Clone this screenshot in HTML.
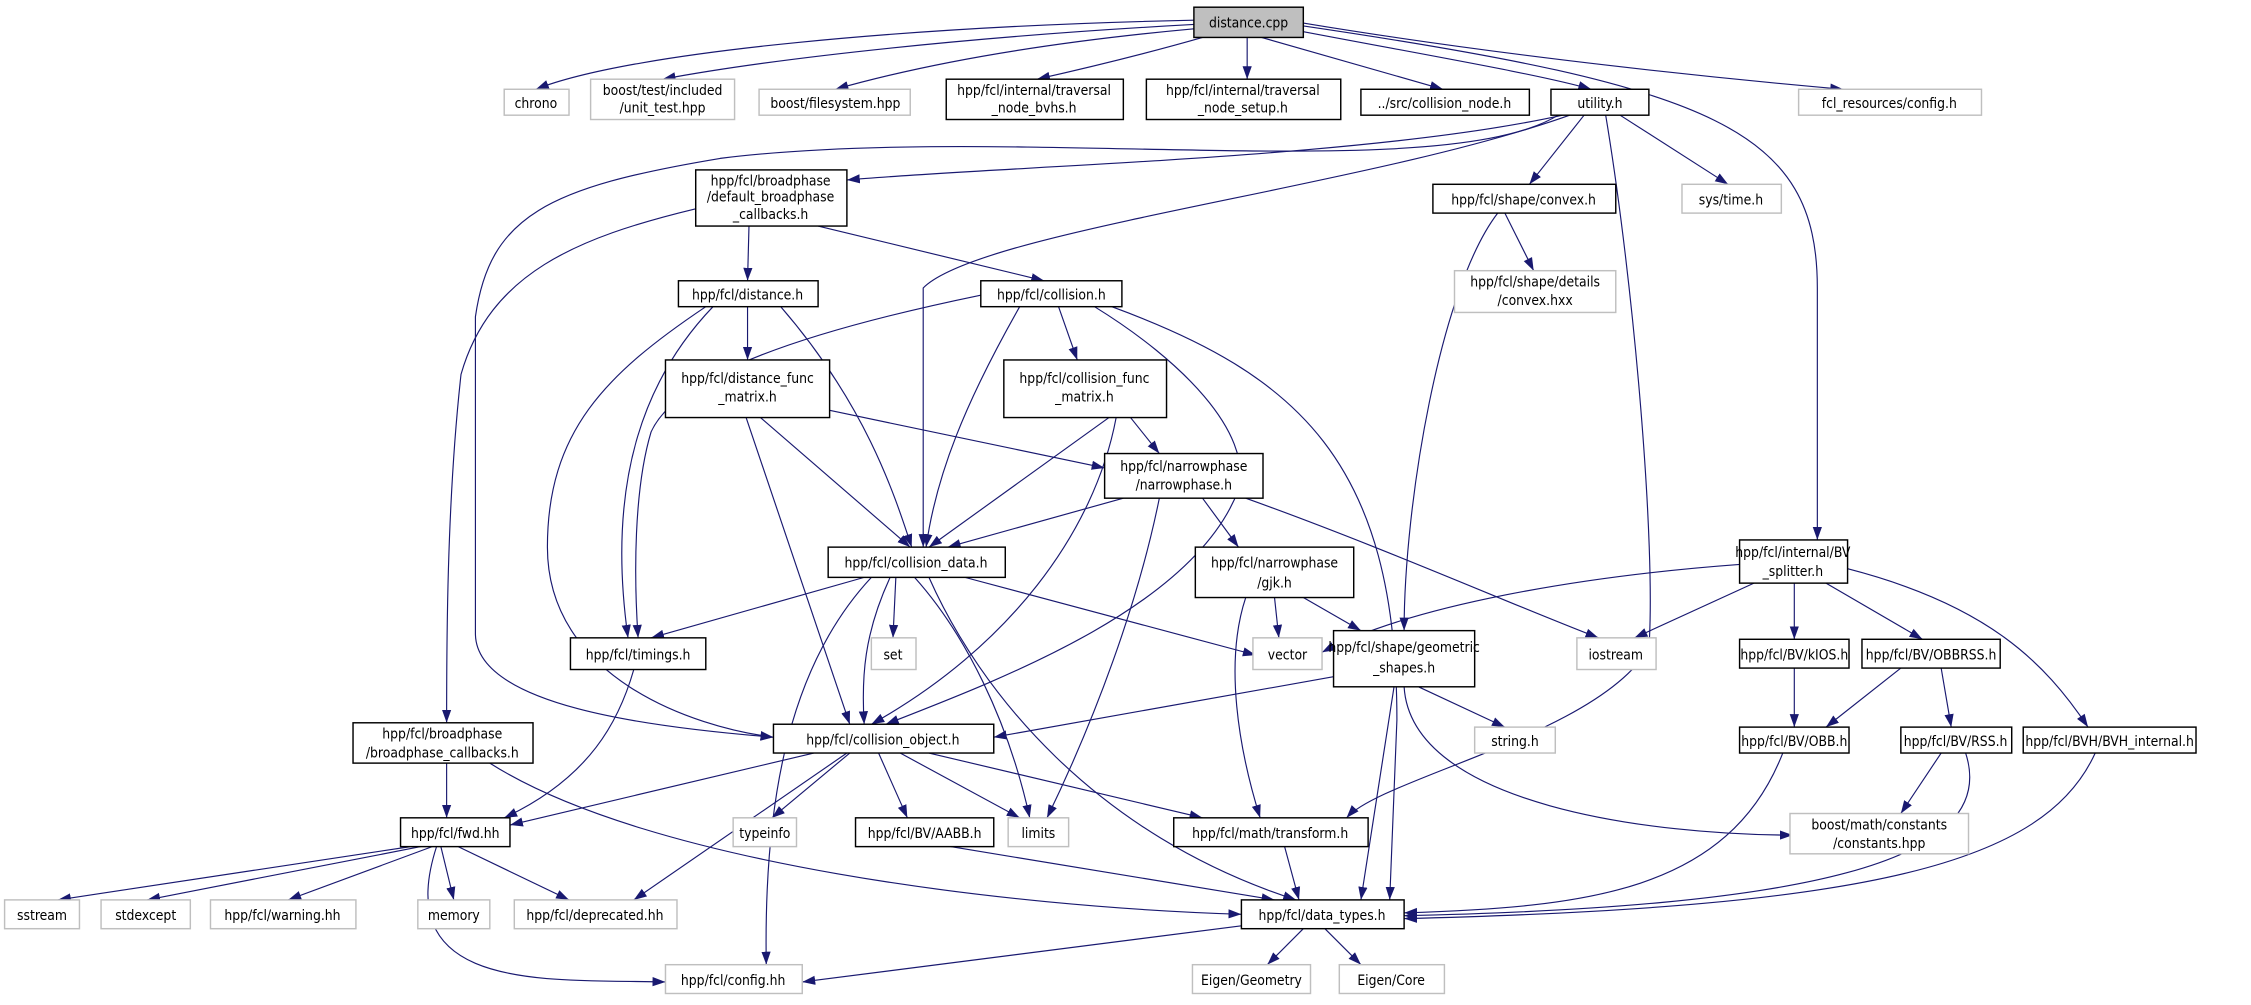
<!DOCTYPE html>
<html><head><meta charset="utf-8"><style>
html,body{margin:0;padding:0;background:#fff;}
svg{display:block;}
text{font-family:"DejaVu Sans Condensed","Liberation Sans",sans-serif;font-size:9.6px;fill:#000;text-anchor:middle;}
.b{fill:#fff;stroke:#000;stroke-width:1;}
.g{fill:#fff;stroke:#bfbfbf;stroke-width:1;}
.e{fill:none;stroke:#191970;stroke-width:0.8;marker-end:url(#a);}
</style></head><body>
<svg width="2251" height="1005" viewBox="0 0 1563 698" xmlns="http://www.w3.org/2000/svg">
<defs><marker id="a" markerUnits="userSpaceOnUse" markerWidth="10" markerHeight="8" refX="9" refY="4" orient="auto"><path d="M0,0.8 L9,4 L0,7.2 z" fill="#191970"/></marker></defs>

<g>
<path class="e" d="M829,14 C640,18 440,35 372,62"/>
<path class="e" d="M829,17 C680,25 540,40 460,55"/>
<path class="e" d="M829,20 C720,30 640,45 580,62"/>
<path class="e" d="M835,26 C800,36 760,46 720,55"/>
<path class="e" d="M866,26 L866,55"/>
<path class="e" d="M876,26 L1002,62"/>
<path class="e" d="M905,22 C1000,40 1070,52 1105,62"/>
<path class="e" d="M905,16 C1050,40 1200,55 1280,62"/>
<path class="e" d="M905,18 C1190,60 1262,90 1262,200 L1262,375"/>

<path class="e" d="M1085,80 C950,110 700,115 588,125"/>
<path class="e" d="M1082,80 C1000,130 700,85 500,110 C380,130 340,150 330,220 L330,440 C330,490 450,505 537,512"/>
<path class="e" d="M1090,80 C950,130 680,160 641,200 L641,380"/>
<path class="e" d="M1100,80 L1062,128"/>
<path class="e" d="M1115,80 C1135,200 1150,380 1145,450 C1110,510 960,540 935,568"/>
<path class="e" d="M1125,80 L1200,128"/>

<path class="e" d="M520,157 L519,195"/>
<path class="e" d="M568,157 L725,195"/>
<path class="e" d="M483,145 C400,165 340,190 320,260 C310,350 310,450 310,502"/>

<path class="e" d="M1045,148 L1065,188"/>
<path class="e" d="M1040,148 C1000,200 975,350 975,438"/>

<path class="e" d="M519,213 L519,250"/>
<path class="e" d="M542,213 C600,280 620,340 633,380"/>
<path class="e" d="M495,213 C450,260 420,330 436,443"/>
<path class="e" d="M490,213 C420,260 380,300 380,380 C380,470 480,505 537,512"/>

<path class="e" d="M735,213 L748,250"/>
<path class="e" d="M708,213 C670,280 650,330 643,380"/>
<path class="e" d="M681,205 C560,230 470,260 452,300 C440,340 440,400 443,443"/>
<path class="e" d="M760,213 C820,250 870,300 860,340 C830,420 700,470 615,503"/>
<path class="e" d="M772,213 C900,260 970,320 970,500 L965,625"/>

<path class="e" d="M576,285 L767,325"/>
<path class="e" d="M528,290 L632,380"/>
<path class="e" d="M518,290 L590,503"/>

<path class="e" d="M785,290 L805,315"/>
<path class="e" d="M770,290 L645,380"/>
<path class="e" d="M775,290 C760,370 700,450 605,503"/>

<path class="e" d="M780,346 L658,380"/>
<path class="e" d="M835,346 L860,380"/>
<path class="e" d="M805,346 C790,420 760,500 727,568"/>
<path class="e" d="M865,346 C960,380 1050,420 1110,443"/>

<path class="e" d="M600,401 L452,443"/>
<path class="e" d="M622,401 L620,443"/>
<path class="e" d="M670,401 L872,455"/>
<path class="e" d="M618,401 C600,440 598,470 600,503"/>
<path class="e" d="M635,401 C670,440 700,500 715,568"/>
<path class="e" d="M645,401 C680,480 760,580 900,625"/>
<path class="e" d="M605,401 C550,460 530,550 532,670"/>

<path class="e" d="M885,415 L888,443"/>
<path class="e" d="M905,415 L945,438"/>
<path class="e" d="M865,415 C850,460 860,520 875,568"/>

<path class="e" d="M1208,392 C1100,400 980,420 918,453"/>
<path class="e" d="M1218,405 L1135,443"/>
<path class="e" d="M1246,405 L1246,444"/>
<path class="e" d="M1268,405 L1335,444"/>
<path class="e" d="M1283,395 C1380,420 1420,460 1450,505"/>

<path class="e" d="M440,465 C430,500 410,540 350,568"/>

<path class="e" d="M926,470 L690,512"/>
<path class="e" d="M985,477 L1045,505"/>
<path class="e" d="M968,477 L945,625"/>
<path class="e" d="M975,477 C980,560 1150,580 1245,580"/>

<path class="e" d="M1246,464 L1246,505"/>
<path class="e" d="M1320,464 L1268,505"/>
<path class="e" d="M1348,464 L1355,505"/>
<path class="e" d="M1238,523 C1200,620 1100,630 975,634"/>
<path class="e" d="M1348,523 L1320,565"/>
<path class="e" d="M1365,523 C1390,600 1250,630 975,636"/>
<path class="e" d="M1455,523 C1420,600 1300,630 975,638"/>

<path class="e" d="M310,530 L310,568"/>
<path class="e" d="M340,530 C450,600 700,630 862,635"/>

<path class="e" d="M565,523 L354,573"/>
<path class="e" d="M590,523 L536,568"/>
<path class="e" d="M610,523 L630,568"/>
<path class="e" d="M625,523 L708,568"/>
<path class="e" d="M645,523 L835,568"/>
<path class="e" d="M588,523 L440,625"/>

<path class="e" d="M285,588 L40,625"/>
<path class="e" d="M292,588 L102,625"/>
<path class="e" d="M300,588 L200,625"/>
<path class="e" d="M306,588 L315,625"/>
<path class="e" d="M318,588 L395,625"/>
<path class="e" d="M303,588 C270,690 380,680 462,682"/>

<path class="e" d="M660,588 L885,625"/>
<path class="e" d="M892,588 L902,625"/>
<path class="e" d="M862,643 L557,682"/>
<path class="e" d="M905,645 L880,670"/>
<path class="e" d="M920,645 L945,670"/>
</g>

<g>
<rect x="829" y="5" width="76" height="21" fill="#bfbfbf" stroke="#000"/><text x="867" y="19">distance.cpp</text>

<rect class="g" x="350" y="62" width="45" height="18"/><text x="372" y="75">chrono</text>
<rect class="g" x="410" y="55" width="100" height="28"/><text x="460" y="66">boost/test/included</text><text x="460" y="78">/unit_test.hpp</text>
<rect class="g" x="527" y="62" width="105" height="18"/><text x="580" y="75">boost/filesystem.hpp</text>
<rect class="b" x="657" y="55" width="123" height="28"/><text x="718" y="66">hpp/fcl/internal/traversal</text><text x="718" y="78">_node_bvhs.h</text>
<rect class="b" x="796" y="55" width="135" height="28"/><text x="863" y="66">hpp/fcl/internal/traversal</text><text x="863" y="78">_node_setup.h</text>
<rect class="b" x="945" y="62" width="117" height="18"/><text x="1003" y="75">../src/collision_node.h</text>
<rect class="b" x="1077" y="62" width="68" height="18"/><text x="1111" y="75">utility.h</text>
<rect class="g" x="1249" y="62" width="127" height="18"/><text x="1312" y="75">fcl_resources/config.h</text>

<rect class="b" x="483" y="118" width="105" height="39"/><text x="535" y="129">hpp/fcl/broadphase</text><text x="535" y="140">/default_broadphase</text><text x="535" y="152">_callbacks.h</text>
<rect class="b" x="995" y="128" width="127" height="20"/><text x="1058" y="142">hpp/fcl/shape/convex.h</text>
<rect class="g" x="1168" y="128" width="69" height="20"/><text x="1202" y="142">sys/time.h</text>
<rect class="g" x="1010" y="188" width="112" height="29"/><text x="1066" y="199">hpp/fcl/shape/details</text><text x="1066" y="212">/convex.hxx</text>

<rect class="b" x="471" y="195" width="97" height="18"/><text x="519" y="208">hpp/fcl/distance.h</text>
<rect class="b" x="681" y="195" width="98" height="18"/><text x="730" y="208">hpp/fcl/collision.h</text>

<rect class="b" x="462" y="250" width="114" height="40"/><text x="519" y="266">hpp/fcl/distance_func</text><text x="519" y="279">_matrix.h</text>
<rect class="b" x="697" y="250" width="113" height="40"/><text x="753" y="266">hpp/fcl/collision_func</text><text x="753" y="279">_matrix.h</text>
<rect class="b" x="767" y="315" width="110" height="31"/><text x="822" y="327">hpp/fcl/narrowphase</text><text x="822" y="340">/narrowphase.h</text>

<rect class="b" x="575" y="380" width="123" height="21"/><text x="636" y="394">hpp/fcl/collision_data.h</text>
<rect class="b" x="830" y="380" width="110" height="35"/><text x="885" y="394">hpp/fcl/narrowphase</text><text x="885" y="408">/gjk.h</text>
<rect class="b" x="1208" y="375" width="75" height="30"/><text x="1245" y="387">hpp/fcl/internal/BV</text><text x="1245" y="400">_splitter.h</text>

<rect class="b" x="396" y="443" width="94" height="22"/><text x="443" y="458">hpp/fcl/timings.h</text>
<rect class="g" x="605" y="443" width="31" height="22"/><text x="620" y="458">set</text>
<rect class="g" x="870" y="443" width="48" height="22"/><text x="894" y="458">vector</text>
<rect class="b" x="926" y="438" width="98" height="39"/><text x="975" y="453">hpp/fcl/shape/geometric</text><text x="975" y="467">_shapes.h</text>
<rect class="g" x="1095" y="443" width="55" height="22"/><text x="1122" y="458">iostream</text>
<rect class="b" x="1208" y="444" width="76" height="20"/><text x="1246" y="458">hpp/fcl/BV/kIOS.h</text>
<rect class="b" x="1293" y="444" width="96" height="20"/><text x="1341" y="458">hpp/fcl/BV/OBBRSS.h</text>

<rect class="b" x="245" y="502" width="125" height="28"/><text x="307" y="513">hpp/fcl/broadphase</text><text x="307" y="526">/broadphase_callbacks.h</text>
<rect class="b" x="537" y="503" width="153" height="20"/><text x="613" y="517">hpp/fcl/collision_object.h</text>
<rect class="g" x="1024" y="505" width="56" height="18"/><text x="1052" y="518">string.h</text>
<rect class="b" x="1208" y="505" width="76" height="18"/><text x="1246" y="518">hpp/fcl/BV/OBB.h</text>
<rect class="b" x="1320" y="505" width="77" height="18"/><text x="1358" y="518">hpp/fcl/BV/RSS.h</text>
<rect class="b" x="1405" y="505" width="120" height="18"/><text x="1465" y="518">hpp/fcl/BVH/BVH_internal.h</text>

<rect class="b" x="278" y="568" width="76" height="20"/><text x="316" y="582">hpp/fcl/fwd.hh</text>
<rect class="g" x="509" y="568" width="44" height="20"/><text x="531" y="582">typeinfo</text>
<rect class="b" x="594" y="568" width="96" height="20"/><text x="642" y="582">hpp/fcl/BV/AABB.h</text>
<rect class="g" x="700" y="568" width="42" height="20"/><text x="721" y="582">limits</text>
<rect class="b" x="815" y="568" width="135" height="20"/><text x="882" y="582">hpp/fcl/math/transform.h</text>
<rect class="g" x="1243" y="565" width="124" height="28"/><text x="1305" y="576">boost/math/constants</text><text x="1305" y="589">/constants.hpp</text>

<rect class="g" x="3" y="625" width="52" height="20"/><text x="29" y="639">sstream</text>
<rect class="g" x="70" y="625" width="62" height="20"/><text x="101" y="639">stdexcept</text>
<rect class="g" x="146" y="625" width="101" height="20"/><text x="196" y="639">hpp/fcl/warning.hh</text>
<rect class="g" x="290" y="625" width="50" height="20"/><text x="315" y="639">memory</text>
<rect class="g" x="357" y="625" width="113" height="20"/><text x="413" y="639">hpp/fcl/deprecated.hh</text>
<rect class="b" x="862" y="625" width="113" height="20"/><text x="918" y="639">hpp/fcl/data_types.h</text>

<rect class="g" x="462" y="670" width="95" height="20"/><text x="509" y="684">hpp/fcl/config.hh</text>
<rect class="g" x="828" y="670" width="82" height="20"/><text x="869" y="684">Eigen/Geometry</text>
<rect class="g" x="930" y="670" width="73" height="20"/><text x="966" y="684">Eigen/Core</text>
</g>
</svg>
</body></html>
